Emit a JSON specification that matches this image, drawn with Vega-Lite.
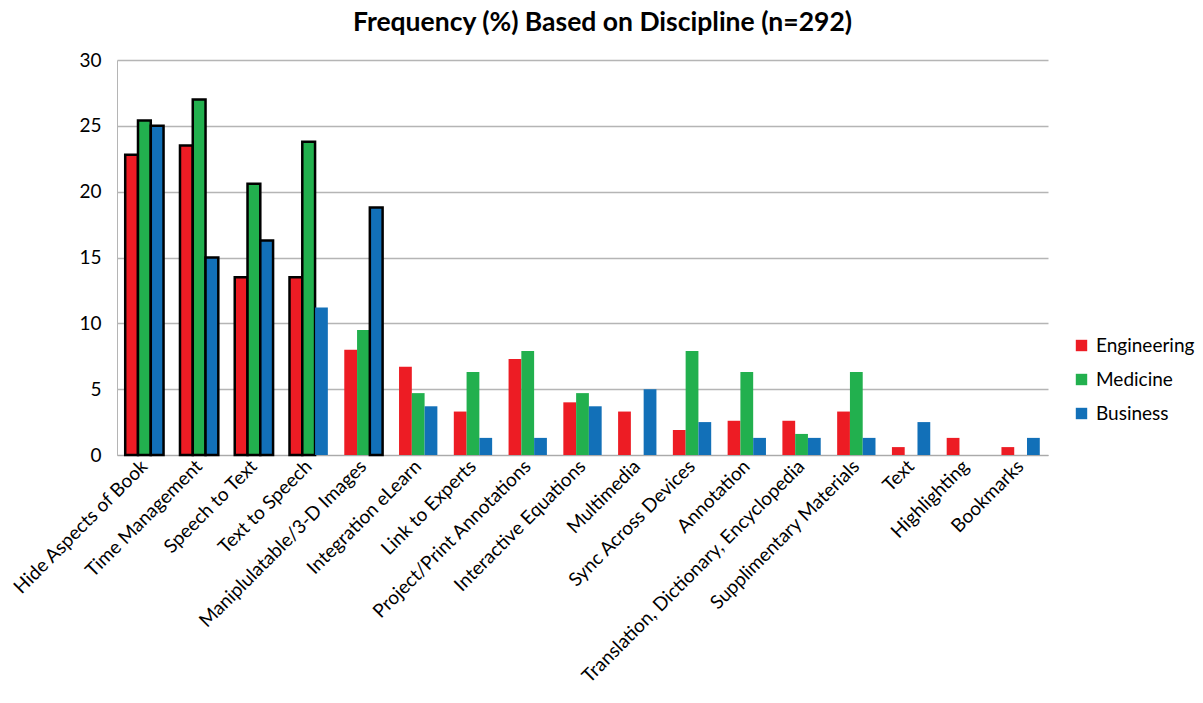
{
  "$schema": "https://vega.github.io/schema/vega-lite/v6.json",
  "width": 931,
  "height": 395,
  "autosize": {"type": "none"},
  "padding": {"left": 117, "top": 60, "right": 155, "bottom": 248},
  "background": "white",
  "config": {"view": {"stroke": null}},
  "title": {"text": "Frequency (%) Based on Discipline (n=292)", "font": "Lato", "fontSize": 26.5, "fontWeight": "bold", "color": "black", "offset": 15, "dx": 20},
  "data": {"values": [
    {"feature": "Hide Aspects of Book", "discipline": "Engineering", "value": 22.8},
    {"feature": "Hide Aspects of Book", "discipline": "Medicine", "value": 25.4},
    {"feature": "Hide Aspects of Book", "discipline": "Business", "value": 25.0},
    {"feature": "Time Management", "discipline": "Engineering", "value": 23.5},
    {"feature": "Time Management", "discipline": "Medicine", "value": 27.0},
    {"feature": "Time Management", "discipline": "Business", "value": 15.0},
    {"feature": "Speech to Text", "discipline": "Engineering", "value": 13.5},
    {"feature": "Speech to Text", "discipline": "Medicine", "value": 20.6},
    {"feature": "Speech to Text", "discipline": "Business", "value": 16.3},
    {"feature": "Text to Speech", "discipline": "Engineering", "value": 13.5},
    {"feature": "Text to Speech", "discipline": "Medicine", "value": 23.8},
    {"feature": "Text to Speech", "discipline": "Business", "value": 11.2},
    {"feature": "Maniplulatable/3-D Images", "discipline": "Engineering", "value": 8.0},
    {"feature": "Maniplulatable/3-D Images", "discipline": "Medicine", "value": 9.5},
    {"feature": "Maniplulatable/3-D Images", "discipline": "Business", "value": 18.8},
    {"feature": "Integration eLearn", "discipline": "Engineering", "value": 6.7},
    {"feature": "Integration eLearn", "discipline": "Medicine", "value": 4.7},
    {"feature": "Integration eLearn", "discipline": "Business", "value": 3.7},
    {"feature": "Link to Experts", "discipline": "Engineering", "value": 3.3},
    {"feature": "Link to Experts", "discipline": "Medicine", "value": 6.3},
    {"feature": "Link to Experts", "discipline": "Business", "value": 1.3},
    {"feature": "Project/Print Annotations", "discipline": "Engineering", "value": 7.3},
    {"feature": "Project/Print Annotations", "discipline": "Medicine", "value": 7.9},
    {"feature": "Project/Print Annotations", "discipline": "Business", "value": 1.3},
    {"feature": "Interactive Equations", "discipline": "Engineering", "value": 4.0},
    {"feature": "Interactive Equations", "discipline": "Medicine", "value": 4.7},
    {"feature": "Interactive Equations", "discipline": "Business", "value": 3.7},
    {"feature": "Multimedia", "discipline": "Engineering", "value": 3.3},
    {"feature": "Multimedia", "discipline": "Medicine", "value": 0},
    {"feature": "Multimedia", "discipline": "Business", "value": 5.0},
    {"feature": "Sync Across Devices", "discipline": "Engineering", "value": 1.9},
    {"feature": "Sync Across Devices", "discipline": "Medicine", "value": 7.9},
    {"feature": "Sync Across Devices", "discipline": "Business", "value": 2.5},
    {"feature": "Annotation", "discipline": "Engineering", "value": 2.6},
    {"feature": "Annotation", "discipline": "Medicine", "value": 6.3},
    {"feature": "Annotation", "discipline": "Business", "value": 1.3},
    {"feature": "Translation, Dictionary, Encyclopedia", "discipline": "Engineering", "value": 2.6},
    {"feature": "Translation, Dictionary, Encyclopedia", "discipline": "Medicine", "value": 1.6},
    {"feature": "Translation, Dictionary, Encyclopedia", "discipline": "Business", "value": 1.3},
    {"feature": "Supplimentary Materials", "discipline": "Engineering", "value": 3.3},
    {"feature": "Supplimentary Materials", "discipline": "Medicine", "value": 6.3},
    {"feature": "Supplimentary Materials", "discipline": "Business", "value": 1.3},
    {"feature": "Text", "discipline": "Engineering", "value": 0.6},
    {"feature": "Text", "discipline": "Medicine", "value": 0},
    {"feature": "Text", "discipline": "Business", "value": 2.5},
    {"feature": "Highlighting", "discipline": "Engineering", "value": 1.3},
    {"feature": "Highlighting", "discipline": "Medicine", "value": 0},
    {"feature": "Highlighting", "discipline": "Business", "value": 0},
    {"feature": "Bookmarks", "discipline": "Engineering", "value": 0.6},
    {"feature": "Bookmarks", "discipline": "Medicine", "value": 0},
    {"feature": "Bookmarks", "discipline": "Business", "value": 1.3}
  ]},
  "transform": [
    {"window": [{"op": "row_number", "as": "rank"}], "groupby": ["discipline"], "sort": [{"field": "value", "order": "descending"}]}
  ],
  "mark": {"type": "bar", "stroke": "black"},
  "encoding": {
    "x": {"field": "feature", "type": "nominal", "sort": null,
      "scale": {"paddingInner": 0.3, "paddingOuter": 0.15},
      "axis": {"title": null, "labelAngle": -45, "labelAlign": "right", "labelBaseline": "middle", "labelFontSize": 19, "labelFont": "Lato", "labelColor": "black", "ticks": false, "domainColor": "#aaaaaa", "labelPadding": 8, "labelLimit": 400}},
    "xOffset": {"field": "discipline", "type": "nominal", "sort": ["Engineering", "Medicine", "Business"]},
    "y": {"field": "value", "type": "quantitative", "scale": {"domain": [0, 30]},
      "axis": {"title": null, "values": [0, 5, 10, 15, 20, 25, 30], "grid": true, "gridColor": "#b5b5b5", "gridWidth": 1.3, "domainColor": "#b5b5b5", "ticks": false, "labelFont": "Lato", "labelFontSize": 19, "labelColor": "black", "labelPadding": 16}},
    "color": {"field": "discipline", "type": "nominal", "sort": ["Engineering", "Medicine", "Business"],
      "scale": {"domain": ["Engineering", "Medicine", "Business"], "range": ["#ED1C24", "#22B04E", "#1270B8"]},
      "legend": {"title": null, "orient": "none", "legendX": 955, "legendY": 276, "symbolType": "square", "symbolSize": 130, "symbolStrokeWidth": 0, "labelFont": "Lato", "labelFontSize": 19, "labelColor": "black", "rowPadding": 14, "labelOffset": 5}},
    "strokeWidth": {"condition": {"test": "datum.rank <= 4", "value": 2.5}, "value": 0}
  }
}
